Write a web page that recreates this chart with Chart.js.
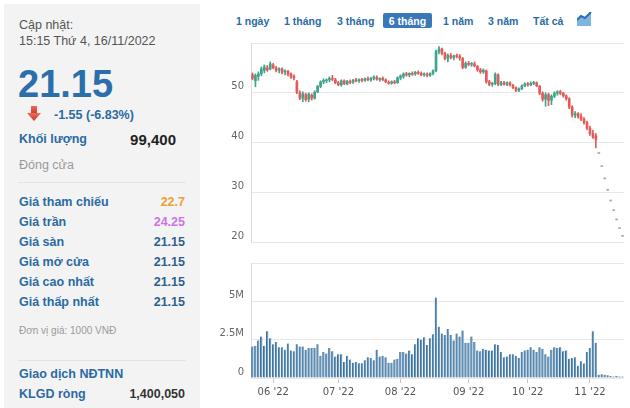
<!DOCTYPE html>
<html><head><meta charset="utf-8">
<script src="https://cdn.jsdelivr.net/npm/chart.js@4/dist/chart.umd.min.js"></script>
<style>
body{margin:0;width:630px;height:408px;background:#fff;position:relative;overflow:hidden;font-family:"Liberation Sans",Arial,sans-serif;}
.panel{position:absolute;left:4px;top:4px;width:196px;height:410px;background:#f3f3f3;}
.t{position:absolute;white-space:nowrap;line-height:1;}
.lab{left:19px;font-size:12.5px;font-weight:bold;color:#2b6aa3;}
.val{right:445px;font-size:12.5px;font-weight:bold;color:#2f5f8c;text-align:right;}
.sep{position:absolute;left:18px;width:168px;height:1px;background:#e3e3e3;}
.btn{position:absolute;top:16px;font-size:10.5px;font-weight:bold;color:#2b6aa3;line-height:1;white-space:nowrap;}
canvas{position:absolute;}
</style></head>
<body>
<div class="panel"></div>
<div class="t" style="left:19px;top:19px;font-size:12.5px;color:#555">Cập nhật:</div>
<div class="t" style="left:19px;top:35px;font-size:12.5px;color:#555">15:15 Thứ 4, 16/11/2022</div>
<div class="t" style="left:18px;top:65px;font-size:38px;font-weight:bold;color:#2a6eab">21.15</div>
<svg style="position:absolute;left:27px;top:106px" width="14" height="15"><defs><linearGradient id="ag" x1="0" y1="0" x2="0" y2="1"><stop offset="0" stop-color="#ef6a5e"/><stop offset="1" stop-color="#c9362b"/></linearGradient></defs><rect x="4" y="0" width="6" height="8" fill="url(#ag)"/><polygon points="0,7 14,7 7,15" fill="url(#ag)"/></svg>
<div class="t" style="left:54px;top:109px;font-size:12.5px;font-weight:bold;color:#2b6aa3">-1.55 (-6.83%)</div>
<div class="t lab" style="top:133px">Khối lượng</div>
<div class="t" style="right:454px;top:132px;font-size:15px;font-weight:bold;color:#222">99,400</div>
<div class="t" style="left:19px;top:159px;font-size:12.5px;color:#9a9a9a">Đóng cửa</div>
<div class="sep" style="top:182px"></div>
<div class="t lab" style="top:196px">Giá tham chiếu</div><div class="t val" style="top:196px;color:#eea03a">22.7</div>
<div class="t lab" style="top:216px">Giá trần</div><div class="t val" style="top:216px;color:#d072e6">24.25</div>
<div class="t lab" style="top:236px">Giá sàn</div><div class="t val" style="top:236px">21.15</div>
<div class="t lab" style="top:256px">Giá mở cửa</div><div class="t val" style="top:256px">21.15</div>
<div class="t lab" style="top:276px">Giá cao nhất</div><div class="t val" style="top:276px">21.15</div>
<div class="t lab" style="top:296px">Giá thấp nhất</div><div class="t val" style="top:296px">21.15</div>
<div class="t" style="left:19px;top:326px;font-size:10px;color:#9a9a9a">Đơn vị giá: 1000 VNĐ</div>
<div class="sep" style="top:360px"></div>
<div class="t lab" style="top:368px">Giao dịch NĐTNN</div>
<div class="t lab" style="top:388px">KLGD ròng</div><div class="t val" style="top:388px;color:#333">1,400,050</div>

<div class="btn" style="left:236px">1 ngày</div>
<div class="btn" style="left:284px">1 tháng</div>
<div class="btn" style="left:337px">3 tháng</div>
<div style="position:absolute;left:383px;top:13px;width:49px;height:15px;background:#3a78b7;border-radius:2px"></div>
<div class="btn" style="left:383px;width:49px;text-align:center;color:#fff;top:16px">6 tháng</div>
<div class="btn" style="left:443px">1 năm</div>
<div class="btn" style="left:488px">3 năm</div>
<div class="btn" style="left:533px">Tất cả</div>
<svg style="position:absolute;left:577px;top:12px" width="15" height="14"><polygon points="0,8 4,4 8,6 14,0 14,14 0,14" fill="#7db4e0"/><polyline points="0,8 4,4 8,6 14,0" fill="none" stroke="#2d6db0" stroke-width="2"/></svg>

<canvas id="price" width="430" height="225" style="left:200px;top:30px;width:430px;height:225px"></canvas>
<canvas id="vol" width="430" height="158" style="left:200px;top:250px;width:430px;height:158px"></canvas>
<script>
const dates = [
'23/05/22','24/05/22','25/05/22','26/05/22','27/05/22','30/05/22','31/05/22',
'01/06/22','02/06/22','03/06/22','06/06/22','07/06/22','08/06/22','09/06/22','10/06/22','13/06/22','14/06/22','15/06/22','16/06/22','17/06/22','20/06/22','21/06/22','22/06/22','23/06/22','24/06/22','27/06/22','28/06/22','29/06/22','30/06/22',
'01/07/22','04/07/22','05/07/22','06/07/22','07/07/22','08/07/22','11/07/22','12/07/22','13/07/22','14/07/22','15/07/22','18/07/22','19/07/22','20/07/22','21/07/22','22/07/22','25/07/22','26/07/22','27/07/22','28/07/22','29/07/22',
'01/08/22','02/08/22','03/08/22','04/08/22','05/08/22','08/08/22','09/08/22','10/08/22','11/08/22','12/08/22','15/08/22','16/08/22','17/08/22','18/08/22','19/08/22','22/08/22','23/08/22','24/08/22','25/08/22','26/08/22','29/08/22','30/08/22','31/08/22',
'05/09/22','06/09/22','07/09/22','08/09/22','09/09/22','12/09/22','13/09/22','14/09/22','15/09/22','16/09/22','19/09/22','20/09/22','21/09/22','22/09/22','23/09/22','26/09/22','27/09/22','28/09/22','29/09/22','30/09/22',
'03/10/22','04/10/22','05/10/22','06/10/22','07/10/22','10/10/22','11/10/22','12/10/22','13/10/22','14/10/22','17/10/22','18/10/22','19/10/22','20/10/22','21/10/22','24/10/22','25/10/22','26/10/22','27/10/22','28/10/22','31/10/22',
'01/11/22','02/11/22','03/11/22','04/11/22','07/11/22','08/11/22','09/11/22','10/11/22','11/11/22','14/11/22','15/11/22','16/11/22'];

const openP = [53.6,52.4,53.3,53.8,54.5,55.0,54.8,55.6,55.0,54.6,54.8,54.2,54.3,53.8,53.3,52.2,50.0,48.9,49.6,48.7,49.5,48.9,50.2,51.3,52.2,52.4,52.6,52.9,52.6,52.0,
51.6,52.4,51.8,52.2,52.1,52.5,52.4,52.6,52.5,52.8,52.6,52.9,53.1,52.7,52.9,52.6,52.1,51.9,52.2,52.0,53.0,53.3,53.8,53.6,53.9,53.8,54.1,53.9,53.6,53.7,
53.5,53.9,54.4,58.3,58.8,57.9,56.9,57.5,57.1,57.4,57.3,56.9,55.1,55.9,55.7,55.8,55.3,54.6,54.2,54.4,52.2,51.7,51.8,53.6,51.7,52.0,51.7,52.0,51.5,51.0,
50.5,50.8,51.4,51.8,51.6,51.9,52.0,51.3,49.9,48.7,49.6,48.5,49.3,49.9,50.2,49.9,49.4,48.8,47.1,45.5,45.8,45.2,44.7,44.0,42.9,41.8,41.3,
37.8,35.15,32.7,30.4,28.25,26.3,24.45,22.7,21.15];
const highP = [54.0,53.8,54.2,55.2,55.6,55.5,56.2,55.9,55.3,55.0,55.0,54.6,54.5,54.0,53.6,52.5,50.4,50.2,49.9,50.0,49.8,50.4,51.5,52.4,52.8,52.8,53.2,53.5,52.9,52.3,
52.6,52.6,52.5,52.6,52.7,52.9,52.8,52.9,53.0,53.2,53.1,53.4,53.4,53.0,53.2,52.8,52.4,52.4,52.5,53.2,53.6,54.0,54.1,54.0,54.2,54.3,54.4,54.2,54.0,54.0,
54.0,54.6,58.6,59.3,59.0,58.2,57.8,57.9,57.6,57.8,57.7,57.1,56.2,56.3,56.1,56.2,55.5,54.9,54.8,54.6,52.5,52.1,54.0,53.8,52.3,52.3,52.2,52.2,51.7,51.2,
51.0,51.6,52.0,52.1,52.2,52.3,52.2,51.5,50.2,50.0,49.9,49.6,50.2,50.4,50.5,50.1,49.6,49.0,47.4,46.2,46.0,45.8,45.0,44.3,43.3,42.5,41.8,
37.8,35.15,32.7,30.4,28.25,26.3,24.45,22.7,21.15];
const lowP = [52.6,51.2,52.5,53.4,54.0,54.3,54.6,54.8,54.2,54.0,53.8,53.6,53.4,52.9,52.6,49.8,48.6,48.2,48.3,48.2,48.5,48.7,50.0,51.0,51.8,52.0,52.2,52.4,51.8,51.4,
51.3,51.6,51.6,51.8,51.9,52.2,52.1,52.2,52.3,52.4,52.3,52.6,52.5,52.3,52.4,52.0,51.7,51.7,51.8,51.9,52.6,52.9,53.3,53.2,53.5,53.5,53.7,53.4,53.3,53.2,
53.3,53.6,54.2,57.8,57.6,56.6,56.2,56.8,56.6,57.0,56.5,54.8,54.9,55.4,55.3,55.2,54.3,53.9,53.9,51.9,51.4,51.3,51.6,51.4,51.4,51.5,51.4,51.3,50.8,50.2,
50.2,50.6,51.2,51.3,51.4,51.6,51.2,49.6,48.3,47.3,47.4,47.6,49.0,49.5,49.6,49.1,48.5,46.8,45.1,45.0,44.9,44.4,43.7,42.6,41.4,40.8,38.9,
37.8,35.15,32.7,30.4,28.25,26.3,24.45,22.7,21.15];
const closeP = [52.9,53.5,53.8,54.8,55.2,54.6,55.8,55.0,54.5,54.8,54.1,54.4,53.7,53.2,53.0,50.1,48.9,49.8,48.6,49.7,48.9,50.1,51.3,52.2,52.5,52.6,52.9,52.7,52.0,51.6,
52.4,51.8,52.3,52.1,52.5,52.4,52.6,52.5,52.8,52.6,52.9,53.2,52.7,52.9,52.6,52.2,51.9,52.2,52.0,53.0,53.4,53.8,53.6,53.9,53.7,54.1,53.9,53.6,53.8,53.5,
53.9,54.4,58.3,58.8,57.9,56.9,57.5,57.1,57.4,57.3,57.0,55.1,55.9,55.7,55.9,55.4,54.6,54.2,54.5,52.2,51.7,51.8,53.7,51.7,52.0,51.7,52.0,51.6,51.0,50.5,
50.8,51.4,51.8,51.6,51.9,52.0,51.4,49.9,48.7,49.6,48.5,49.3,49.9,50.2,49.9,49.4,48.8,47.1,45.5,45.8,45.2,44.7,44.0,42.9,41.8,41.1,40.6,
37.8,35.15,32.7,30.4,28.25,26.3,24.45,22.7,21.15];

// volume in millions of shares
const volumeM = [2.05,2.1,2.45,2.7,2.1,3.05,2.6,2.2,2.35,2.0,2.0,1.85,2.25,1.8,1.75,2.2,2.05,2.05,1.85,1.95,1.95,1.95,2.2,1.45,1.7,1.6,1.95,1.75,1.4,1.55,
1.55,1.05,1.45,1.2,1.0,1.05,0.97,0.97,1.15,1.35,1.3,1.15,1.85,1.4,1.45,1.35,1.0,1.0,1.2,1.25,1.7,1.7,1.6,1.8,1.55,2.2,2.6,2.5,2.65,2.15,
2.6,2.85,5.25,3.35,2.9,2.8,3.2,2.8,2.45,2.9,2.7,3.1,2.3,2.3,2.7,2.35,1.8,1.75,1.9,1.85,1.8,1.8,2.2,2.15,1.7,1.35,1.4,1.55,1.55,1.45,
1.3,1.7,1.8,1.85,2.0,1.85,1.7,2.0,1.9,1.55,1.4,1.85,2.0,1.95,2.0,1.75,1.8,1.25,1.3,1.35,0.8,1.1,0.95,1.7,1.95,3.05,2.3,
0.22,0.25,0.22,0.18,0.13,0.1,0.13,0.1,0.0994];

const priceMin = 20, priceMax = 60, priceStep = 10;
const volMax = 7.5, volStep = 2.5;

const UP = '#3ea58b', DOWN = '#e35b59', FLAT = '#b3a9ad';
const candleColors = closeP.map((c,i)=> c>openP[i] ? UP : (c<openP[i] ? DOWN : FLAT));
const AX = {family:'DejaVu Sans', size:10};

new Chart(document.getElementById('price'), {
  type:'bar',
  data:{labels:dates, datasets:[
    {data: lowP.map((l,i)=>[l,highP[i]]), backgroundColor:candleColors, barThickness:1, grouped:false, order:2},
    {data: openP.map((o,i)=>[o,closeP[i]]), backgroundColor:candleColors, barThickness:2, grouped:false, minBarLength:1, order:1}
  ]},
  options:{responsive:false, animation:false, events:[],
    layout:{padding:{top:11,bottom:13,right:6,left:0}},
    plugins:{legend:{display:false}, tooltip:{enabled:false}},
    scales:{
      x:{display:false, offset:true},
      y:{min:priceMin, max:priceMax, afterFit(s){s.width=51;},
         ticks:{stepSize:priceStep, callback:v=> v===priceMax ? '' : String(v), labelOffset:-6, padding:7, color:'#666', font:AX},
         grid:{color:'#e8e8e8', drawTicks:false}, border:{color:'#dcdcdc'}}
    }
  }
});

new Chart(document.getElementById('vol'), {
  type:'bar',
  data:{labels:dates, datasets:[
    {data: volumeM, backgroundColor:'#6d9bbf', borderColor:'#3f6f96', borderWidth:{left:1,right:0,top:0,bottom:0}, borderSkipped:false, barThickness:2}
  ]},
  options:{responsive:false, animation:false, events:[],
    layout:{padding:{top:8,bottom:0,right:6,left:0}},
    plugins:{legend:{display:false}, tooltip:{enabled:false}},
    scales:{
      x:{offset:true, afterFit(s){s.height=30;},
         ticks:{autoSkip:false, maxRotation:0, padding:3, color:'#555', font:AX,
           callback:(v,i)=>{ const m = dates[i].slice(3,5), pm = i>0 ? dates[i-1].slice(3,5) : m;
             return (i>0 && m!==pm) ? m+" '"+dates[i].slice(6,8) : null; }},
         grid:{drawOnChartArea:false, offset:false, tickLength:5, color:'#c8c8c8'}, border:{display:false}},
      y:{min:0, max:volMax, afterFit(s){s.width=51;},
         ticks:{stepSize:volStep, callback:v=> v===0 ? '0' : (v===volMax ? '' : v+'M'), labelOffset:-6, padding:7, color:'#666', font:AX},
         grid:{color:'#e8e8e8', drawTicks:false}, border:{color:'#dcdcdc'}}
    }
  }
});
</script>
</body></html>
